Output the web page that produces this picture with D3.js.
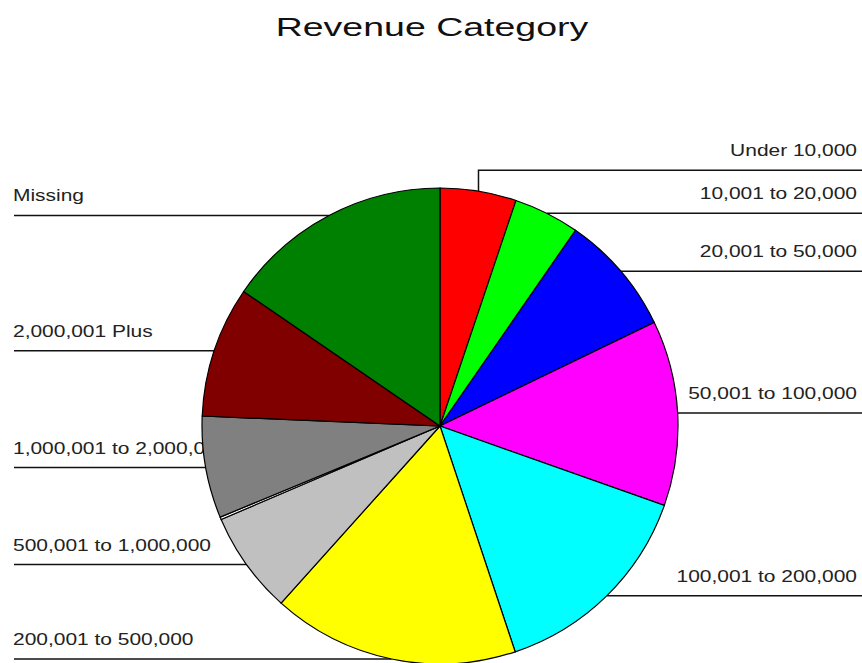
<!DOCTYPE html>
<html>
<head>
<meta charset="utf-8">
<script src="https://d3js.org/d3.v7.min.js"></script>
<style>
  body { margin: 0; background: #fff; }
  text { font-family: "Liberation Sans", Arial, sans-serif; fill: #222; }
</style>
</head>
<body>
<svg width="862" height="663"></svg>
<script>
// slices clockwise from 12 o'clock (percent of records)
const categories = ["Under 10,000", "10,001 to 20,000", "20,001 to 50,000", "50,001 to 100,000",
  "100,001 to 200,000", "200,001 to 500,000", "500,001 to 1,000,000", "",
  "1,000,001 to 2,000,000", "2,000,001 Plus", "Missing"];
const values = [5.17, 4.47, 8.19, 12.58, 14.47, 16.75, 6.94, 0.17, 6.92, 8.89, 15.44];
const colors = ["#ff0000", "#00ff00", "#0000ff", "#ff00ff", "#00ffff", "#ffff00",
  "#c0c0c0", "#ffffff", "#808080", "#800000", "#008000"];

const W = 862, H = 663;
const cx = 440, cy = 426, r = 238;
const svg = d3.select("svg");

svg.append("text")
  .attr("transform", "translate(432,36) scale(1.5,1)")
  .attr("text-anchor", "middle")
  .style("font-size", "25px")
  .style("fill", "#111")
  .text("Revenue Category");

const slices = d3.pie().sort(null).value(d => d)(values)
  .map((s, i) => Object.assign(s, {name: categories[i], color: colors[i]}));
const arc = d3.arc().innerRadius(0).outerRadius(r);

// anchor point of each leader on the rim, at the slice's mid angle
slices.forEach(s => {
  const a = (s.startAngle + s.endAngle) / 2;
  s.px = cx + r * Math.sin(a);
  s.py = cy - r * Math.cos(a);
  s.right = a < Math.PI;
  s.ly = s.py;
});

// keep labels on the right from crowding each other
const minGap = 43;
const rightSide = slices.filter(s => s.right && s.name).sort((a, b) => b.py - a.py);
for (let i = 1; i < rightSide.length; i++) {
  rightSide[i].ly = Math.min(rightSide[i].py, rightSide[i - 1].ly - minGap);
}

const labels = svg.append("g");
slices.filter(s => s.name).forEach(s => {
  const pts = s.right
    ? [[s.px, s.py], [s.px, s.ly], [W, s.ly]]
    : [[s.px, s.py], [14, s.ly]];
  labels.append("path")
    .attr("d", d3.line()(pts))
    .attr("fill", "none")
    .attr("stroke", "#111")
    .attr("stroke-width", 1.5);
  labels.append("text")
    .attr("transform", s.right
      ? "translate(857," + (s.ly - 14) + ") scale(1.31,1)"
      : "translate(13," + (s.ly - 14) + ") scale(1.31,1)")
    .attr("text-anchor", s.right ? "end" : "start")
    .style("font-size", "16px")
    .text(s.name);
});

svg.append("g")
  .attr("transform", "translate(" + cx + "," + cy + ")")
  .selectAll("path")
  .data(slices)
  .enter()
  .append("path")
  .attr("d", arc)
  .attr("fill", d => d.color)
  .attr("stroke", "#000")
  .attr("stroke-width", 1.2);
</script>
</body>
</html>
